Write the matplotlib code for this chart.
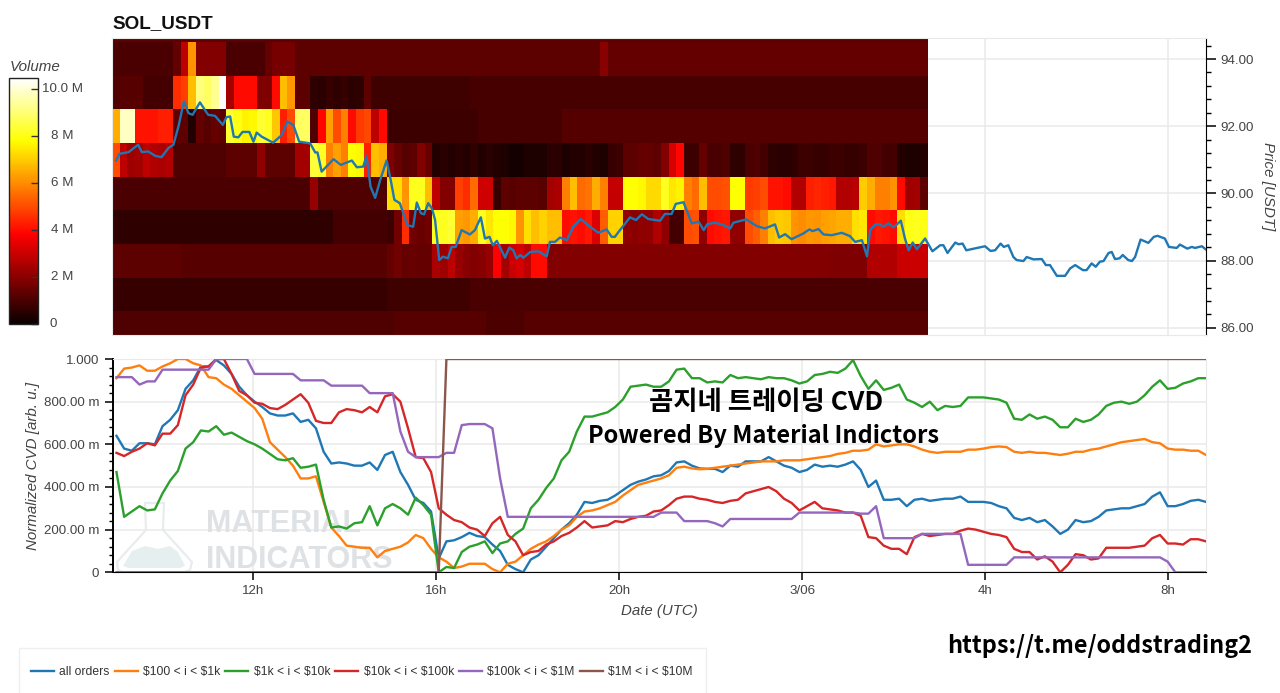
import numpy as np
import matplotlib
matplotlib.use("Agg")
import matplotlib.pyplot as plt
from matplotlib.patches import Polygon, Rectangle
from matplotlib.ticker import FixedLocator

plt.rcParams['font.family'] = ['Liberation Sans', 'DejaVu Sans']

W, H = 1280, 693
GREY = '#444444'

# heatmap volume per price row, in millions, one value per 10 min column
price_rows = [86, 87, 88, 89, 90, 91, 92, 93, 94, 95]
row_86 = [1.1]*37 + [1.2]*12 + [1.05]*5 + [1.2]*53
row_87 = [0.7]*36 + [0.85]*11 + [1.0]*60
row_88 = [1.3]*9 + [1.2]*27 + [1.4, 1.6, 1.4, 1.5, 1.4, 1.4, 2.5, 2.3, 2.8, 2.2, 2.0,
          1.9, 2.0, 2.2, 3.8, 2.4, 3.0, 3.2, 2.8, 4.0, 4.0, 1.9] + [1.9]*36 + [1.8]*5 + [2.6]*4 + [3.0]*4
row_89 = [0.6]*29 + [0.9]*7 + [.8, 1.6, 4.5, 1.6, 1.5, 1.6, 8.1, 8.1, 8.3, 6.3, 6.2,
          6.5, 8.1, 7.4, 7.8, 7.8, 7.7, 6.1, 7.3, 6.8, 7.1, 6.8, 6.8, 4.0, 4.1, 4.0, 4.2, 3.3, 5.3,
          7.1, 7.1, 2.1, 2.0, 2.1, 2.1, 2.6, 2.1, .9, .9, 5.0, 5.1, 2.1, 4.0, 4.1, 4.2, 2.1, 2.1,
          5.0, 5.3, 5.8, 6.8, 7.0, 6.9, 6.1, 6.0, 6.2, 6.1, 6.3, 6.4, 6.5, 6.5, 7.3, 7.4,
          4.0, 4.2, 4.1, 4.0, 7.3, 8.0, 8.1, 8.0]
row_90 = [1.0]*26 + [2.2] + [1.1]*9 + [7.3, 7.3, 6.1, 8.1, 8.1, 6.8, 2.8, 1.9, 1.9, 4.8, 4.5,
          5.5, 3.1, 3.1, 0.7, 1.3, 1.2, 1.3, 1.3, 1.3, 1.2, 2.4, 2.5, 5.8, 6.8, 5.5, 5.6, 6.5, 5.8,
          2.9, 2.9, 7.8, 7.8, 7.7, 7.2, 7.2, 8.1, 7.4, 7.6, 5.8, 5.5, 6.8, 5.0, 5.0, 5.1, 7.8, 7.8,
          4.7, 4.8, 5.0, 4.1, 4.1, 4.0, 2.6, 2.6, 4.3, 4.4, 4.3, 4.2, 2.6, 2.6, 2.7, 7.0, 6.5,
          5.8, 5.8, 6.1, 4.0, 2.3, 2.4, 1.3]
row_91 = [5.0, 2.8, 2.3, 2.4, 2.8, 2.6, 2.5, 2.6] + [1.1]*7 + [1.3]*4 + [2.1] + [1.3]*4 + [2.4, 2.4,
          8.4, 8.2, 5.8, 6.3, 5.8, 7.8, 7.7, 4.3, 6.8, 6.5, 1.8, 1.5, 1.2, 1.3, 1.9, 1.5,
          .4, .5, .4, .5, .4, .6, .4, .5, .4, .3, .2, .2, .3, .3, .3, .5, .5, .3, .4, .4, .5, .4, .3, .7, .8,
          1.3, 1.3, 1.4, 1.4, 1.3, 1.9, 3.2, 3.9, .8, .8, 1.4, 1.0, 1.0, 1.1, .6, .6, 1.0, 1.1, .9,
          .6, .5, .5, .6, .8, .8, .7, .7, .8, .8, .7, .7, .8, 1.1, 1.1, .9, .9, .4, .3, .3, .4]
row_92 = [6.5, 9.8, 9.8, 4.1, 4.1, 4.1, 4.3, 4.3, 1.3, 1.3, .4, 1.4, 1.2, 1.4, 1.3,
          8.3, 8.0, 7.6, 7.7, 8.3, 8.1, 6.9, 4.3, 5.0, 8.8, 8.8, 1.1, 3.9, 6.3, 5.0, 5.8, 4.0, 4.7, 4.9,
          2.8, 4.0] + [0.8]*12 + [0.95]*11 + [1.15]*48
row_93 = [1.1, 1.2, 1.2, 1.2, .9, .9, .9, .9, 4.5, 4.8, 6.8, 9.1, 8.8, 9.3, 10.45, 2.4, 4.0, 4.0, 4.0,
          1.8, 1.8, 4.0, 6.8, 6.2, 1.3, 1.3, .6, .5, .7, .6, .7, .5, .6, 1.3] + [0.85]*13 + [0.95]*60
row_94 = [1.0]*8 + [1.4, 2.8, 6.1] + [1.9]*4 + [1.0]*5 + [1.4] + [1.7]*3 + [1.3]*40 + [2.0] + [1.42]*42
row_95 = [1.3]*107

# traded price line, hours since midnight of the first day
price_hours = [9.01, 9.08, 9.28, 9.49, 9.57, 9.71, 9.86, 10.0, 10.15, 10.26, 10.37, 10.49, 10.59, 10.68, 10.84,
               11.02, 11.17, 11.34, 11.42, 11.5, 11.58, 11.68, 11.77, 11.92, 12.01, 12.08, 12.19, 12.44, 12.63,
               12.75, 12.88, 13.01, 13.25, 13.36, 13.41, 13.5, 13.76, 13.92, 14.16, 14.27, 14.41, 14.48, 14.57,
               14.67, 14.78, 14.92, 15.01, 15.09, 15.21, 15.37, 15.5, 15.58, 15.67, 15.74, 15.83, 15.91, 15.98,
               16.07, 16.15, 16.26, 16.34, 16.43, 16.56, 16.74, 16.85, 16.98, 17.07, 17.17, 17.24, 17.33, 17.51,
               17.6, 17.69, 17.76, 17.84, 17.91, 18.06, 18.24, 18.42, 18.49, 18.6, 18.71, 18.86, 19.0, 19.16,
               19.37, 19.55, 19.73, 19.84, 19.91, 20.02, 20.24, 20.37, 20.5, 20.64, 20.9, 21.0, 21.15, 21.24,
               21.41, 21.59, 21.74, 21.85, 21.93, 22.1, 22.28, 22.43, 22.5, 22.78, 23.01, 23.19, 23.41, 23.5,
               23.63, 23.77, 24.03, 24.16, 24.23, 24.36, 24.47, 24.65, 24.87, 25.05, 25.16, 25.31, 25.42, 25.49,
               25.6, 25.7, 25.78, 25.89, 26.0, 26.16, 26.25, 26.33, 26.42, 26.51, 26.69, 26.85, 27.02, 27.09,
               27.18, 27.35, 27.42, 27.51, 27.59, 27.93, 28.0, 28.12, 28.22, 28.34, 28.41, 28.51, 28.62, 28.69,
               28.84, 28.91, 29.06, 29.24, 29.33, 29.42, 29.57, 29.75, 29.86, 29.97, 30.14, 30.22, 30.33, 30.42,
               30.51, 30.59, 30.7, 30.77, 30.84, 30.94, 31.01, 31.13, 31.21, 31.28, 31.4, 31.57, 31.69, 31.77,
               31.93, 32.02, 32.19, 32.26, 32.42, 32.52, 32.59, 32.74, 32.83]
price = [90.98, 91.18, 91.23, 91.45, 91.23, 91.25, 91.12, 91.08, 91.35, 91.45, 91.99, 92.74, 92.39, 92.34, 92.71,
         92.34, 92.31, 92.04, 92.27, 92.29, 91.69, 91.67, 91.83, 91.83, 91.54, 91.81, 91.69, 91.51, 91.74,
         92.14, 92.04, 91.54, 91.49, 91.22, 91.22, 90.65, 91.02, 90.85, 90.98, 90.78, 90.8, 91.12, 90.2,
         89.87, 90.4, 90.98, 90.4, 89.81, 89.71, 89.06, 89.01, 89.73, 89.41, 89.38, 89.71, 89.56, 89.21,
         88.02, 88.12, 88.07, 88.41, 88.41, 88.91, 88.78, 88.91, 89.29, 88.66, 88.71, 88.46, 88.59, 88.09,
         88.39, 88.31, 88.07, 88.17, 88.09, 88.26, 88.28, 88.13, 88.56, 88.56, 88.69, 88.61, 89.01, 89.24,
         89.01, 88.83, 88.93, 88.71, 88.71, 88.91, 89.29, 89.21, 89.38, 89.24, 89.19, 89.39, 89.39, 89.69,
         89.74, 89.11, 89.16, 88.91, 89.09, 89.13, 89.06, 88.96, 89.13, 89.23, 89.03, 88.96, 89.08, 88.69,
         88.79, 88.64, 88.81, 88.93, 88.88, 88.94, 88.78, 88.76, 88.83, 88.73, 88.56, 88.61, 88.13, 88.91,
         89.08, 89.08, 89.01, 89.11, 88.99, 89.19, 88.66, 88.31, 88.54, 88.34, 88.66, 88.28, 88.46, 88.46,
         88.23, 88.54, 88.49, 88.51, 88.31, 88.41, 88.43, 88.29, 88.31, 88.51, 88.41, 88.46, 88.11, 88.02,
         87.99, 88.11, 88.04, 88.05, 87.87, 87.87, 87.55, 87.55, 87.77, 87.87, 87.72, 87.72, 87.92, 87.82,
         87.97, 87.99, 88.23, 88.26, 88.05, 88.07, 88.17, 88.02, 87.99, 88.11, 88.63, 88.53, 88.71, 88.74,
         88.66, 88.41, 88.38, 88.48, 88.36, 88.41, 88.38, 88.43, 88.33]

# normalized CVD, one value every ~10 min
cvd_all = [.64, .58, .57, .605, .605, .60, .685, .715, .76, .86,
           .90, .965, .965, .995, .97, .93, .87, .83, .80, .775,
           .745, .735, .735, .745, .705, .715, .675, .565, .51, .515,
           .51, .50, .50, .515, .48, .55, .565, .47, .41, .34,
           .325, .285, .065, .145, .15, .165, .185, .17, .165, .13,
           .10, .035, .015, 0, .06, .08, .12, .16, .20, .23,
           .27, .33, .325, .335, .34, .36, .385, .41, .425, .435,
           .45, .455, .475, .515, .52, .50, .487, .485, .485, .47,
           .50, .495, .52, .52, .52, .54, .52, .50, .49, .47,
           .48, .505, .495, .50, .495, .505, .52, .48, .40, .43,
           .34, .34, .345, .31, .34, .345, .335, .34, .345, .345,
           .355, .33, .33, .33, .325, .31, .30, .255, .245, .255,
           .235, .245, .215, .18, .20, .245, .235, .24, .26, .29,
           .295, .30, .30, .31, .32, .355, .375, .31, .31, .32,
           .335, .34, .33]
cvd_100_1k = [.91, .955, .96, .97, .945, .945, .965, .98, 1.0, 1.0,
              .98, .97, .915, .91, .88, .86, .83, .80, .77, .72,
              .61, .575, .54, .50, .44, .44, .45, .33, .21, .17,
              .125, .12, .115, .115, .07, .10, .11, .12, .14, .175,
              .16, .11, .07, .05, .02, .027, .04, .04, .04, .015,
              0, .04, .05, .08, .11, .13, .145, .17, .20, .22,
              .26, .285, .29, .30, .315, .33, .36, .385, .41, .42,
              .43, .44, .455, .49, .495, .487, .483, .485, .49, .495,
              .50, .505, .51, .515, .52, .52, .52, .525, .525, .525,
              .53, .535, .54, .545, .555, .56, .57, .57, .575, .60,
              .59, .595, .60, .60, .59, .575, .565, .56, .565, .565,
              .565, .575, .575, .58, .587, .59, .587, .565, .56, .565,
              .56, .56, .555, .55, .556, .565, .565, .575, .58, .59,
              .60, .61, .615, .62, .625, .61, .605, .58, .575, .575,
              .57, .57, .55]
cvd_1k_10k = [.47, .26, .285, .31, .29, .295, .37, .43, .475, .58,
              .61, .665, .66, .685, .645, .655, .635, .615, .60, .58,
              .555, .53, .525, .535, .49, .495, .505, .34, .21, .215,
              .205, .23, .235, .31, .22, .30, .32, .30, .27, .35,
              .315, .27, 0, .025, .02, .095, .12, .13, .145, .09,
              .135, .145, .18, .205, .30, .34, .395, .44, .525, .565,
              .66, .73, .73, .74, .75, .775, .81, .87, .875, .88,
              .87, .87, .895, .95, .955, .91, .91, .89, .895, .89,
              .925, .91, .915, .91, .905, .915, .91, .91, .90, .885,
              .895, .925, .93, .94, .935, .955, .995, .92, .86, .90,
              .855, .865, .88, .81, .795, .775, .80, .76, .78, .775,
              .78, .82, .82, .82, .815, .81, .795, .72, .715, .74,
              .72, .73, .715, .68, .68, .72, .705, .715, .74, .78,
              .795, .80, .79, .80, .83, .87, .90, .86, .865, .885,
              .895, .91, .91]
cvd_10k_100k = [.56, .545, .565, .58, .605, .595, .65, .65, .69, .83,
                .88, .96, .965, 1.0, 1.0, .93, .85, .83, .795, .79,
                .77, .765, .785, .81, .835, .795, .71, .70, .70, .75,
                .765, .76, .75, .775, .75, .825, .835, .80, .675, .54,
                .535, .47, .30, .27, .245, .235, .21, .20, .17, .23,
                .26, .175, .145, .08, .095, .10, .13, .145, .17, .185,
                .21, .24, .21, .215, .22, .24, .235, .25, .26, .265,
                .285, .29, .315, .345, .355, .355, .345, .34, .33, .325,
                .335, .34, .37, .38, .39, .40, .38, .345, .325, .29,
                .31, .33, .30, .295, .29, .28, .28, .265, .165, .16,
                .125, .11, .11, .085, .165, .18, .17, .175, .18, .18,
                .195, .205, .20, .19, .18, .175, .165, .11, .095, .095,
                .06, .075, .05, 0, .035, .085, .08, .06, .065, .115,
                .115, .115, .115, .12, .125, .16, .175, .135, .135, .13,
                .155, .155, .145]
cvd_100k_1m = [.915, .915, .915, .88, .895, .895, .95, .95, .95, .95,
               .95, .95, .95, 1, 1, 1, 1, 1, .93, .93,
               .93, .93, .93, .93, .90, .90, .90, .90, .875, .875,
               .875, .875, .875, .84, .84, .84, .84, .66, .565, .54,
               .54, .54, .54, .56, .56, .69, .695, .695, .695, .675,
               .44, .26, .26, .26, .26, .26, .26, .26, .26, .26,
               .26, .26, .26, .26, .26, .26, .26, .26, .26, .26,
               .26, .28, .28, .28, .24, .24, .24, .24, .23, .215,
               .25, .25, .25, .25, .25, .25, .25, .25, .25, .28,
               .28, .28, .28, .28, .28, .28, .28, .275, .275, .31,
               .16, .16, .16, .16, .16, .18, .18, .18, .18, .18,
               .18, .035, .035, .035, .035, .035, .035, .07, .07, .07,
               .07, .07, .07, .07, .07, .07, .07, .07, .07, .07,
               .07, .07, .07, .07, .07, .07, .07, .05, 0, 0,
               0, 0, 0]
cvd_1m_10m = [0]*43 + [1]*100

series_labels = ['all orders', r'\$100 < i < \$1k', r'\$1k < i < \$10k', r'\$10k < i < \$100k',
                 r'\$100k < i < \$1M', r'\$1M < i < \$10M']
series_colors = ['#1f77b4', '#ff7f0e', '#2ca02c', '#d62728', '#9467bd', '#8c564b']

x_ticks = [12, 16, 20, 24, 28, 32]
x_labels = ['12h', '16h', '20h', '3/06', '4h', '8h']
price_ticks = [86, 88, 90, 92, 94]
price_labels = ['86.00', '88.00', '90.00', '92.00', '94.00']
cvd_ticks = [0, .2, .4, .6, .8, 1.0]
cvd_labels = ['0', '200.00 m', '400.00 m', '600.00 m', '800.00 m', '1.000']
volume_ticks = [0, 2, 4, 6, 8, 10]
volume_labels = ['0', '2 M', '4 M', '6 M', '8 M', '10.0 M']


def box(left, top, right, bottom):
    return [left / W, 1 - bottom / H, (right - left) / W, (bottom - top) / H]


def fx(px):
    return px / W


def fy(py):
    return 1 - py / H


fig = plt.figure(figsize=(W / 100, H / 100), dpi=100)
ax = fig.add_axes(box(112, 38, 1206, 335))
ax2 = fig.add_axes(box(112.5, 359, 1206, 572.3))
cax = fig.add_axes(box(8.5, 78, 37.7, 324))

xlim = (8.918, 32.83)

# heatmap + price
volume = np.array([row_86, row_87, row_88, row_89, row_90, row_91, row_92, row_93, row_94, row_95])
col_edges = 8.92 + np.arange(volume.shape[1] + 1) / 6
row_edges = np.array(price_rows + [96]) - 0.5
mesh = ax.pcolormesh(col_edges, row_edges, volume, cmap='hot', vmin=0, vmax=10.45, zorder=1)
ax.plot(price_hours, price, color='#1f77b4', lw=1.7, zorder=3, solid_joinstyle='round')
ax.set_xlim(xlim)
ax.set_ylim(85.79, 94.625)
ax.set_xticks(x_ticks)
ax.tick_params(axis='x', length=0, labelbottom=False)
ax.yaxis.tick_right()
ax.yaxis.set_label_position('right')
ax.set_yticks(price_ticks, price_labels)
ax.yaxis.set_minor_locator(FixedLocator(np.arange(86, 94.7, 0.4)))
ax.tick_params(axis='y', which='major', length=7, width=1.1, color='black', labelcolor=GREY, labelsize=9.6, pad=3)
ax.tick_params(axis='y', which='minor', length=3.6, width=1, color='black')
ax.grid(True, color='#e9e9e9', lw=1.1)
ax.set_axisbelow(True)
for side in ['top', 'left', 'bottom']:
    ax.spines[side].set_color('#e9e9e9')
ax.spines['right'].set_color('black')
ax.set_ylabel('Price [USDT]', rotation=270, style='italic', color=GREY, fontsize=10.9, va='center')
ax.yaxis.set_label_coords(1.0 + 62 / 1094, 0.5)
ax.text(0, 1.035, 'SOL_USDT', transform=ax.transAxes, fontweight='bold', fontsize=13.6, color='#111111')

# volume colorbar
cb = fig.colorbar(mesh, cax=cax)
cb.set_ticks(volume_ticks, labels=[''] * len(volume_ticks))
cb.outline.set_edgecolor('#222222')
cb.outline.set_linewidth(1)
cax.tick_params(axis='y', direction='in', length=5, width=1, color='#333333', right=True)
for v, lab in zip(volume_ticks, volume_labels):
    cax.text(1.53 if v == 0 else 1.85, v, lab, ha='center', va='center', color=GREY, fontsize=9.6,
             transform=cax.get_yaxis_transform())
fig.text(fx(10), fy(67), 'Volume', style='italic', color=GREY, fontsize=10.9, va='center')

# watermark behind the CVD lines
flask = [(fx(x), fy(y)) for x, y in [(145, 503), (164, 503), (163, 530), (192, 562), (190, 570), (184, 572),
                                     (122, 572), (118, 570), (117, 562), (146, 530)]]
liquid = [(fx(x), fy(y)) for x, y in [(123, 566), (132, 551), (145, 546), (158, 549), (170, 546), (178, 552),
                                      (185, 566), (180, 568), (128, 568)]]
ax2.add_patch(Polygon(flask, closed=True, transform=fig.transFigure, fill=False, edgecolor='#e9ecee', lw=1.6, zorder=0.5))
ax2.add_patch(Polygon(liquid, closed=True, transform=fig.transFigure, facecolor='#e6efef', edgecolor='none', zorder=0.5))
ax2.text(fx(206), fy(532), 'MATERIAL', transform=fig.transFigure, fontweight='bold', fontsize=22,
         color='#dfe2e5', zorder=0.6, va='baseline')
ax2.text(fx(206), fy(568), 'INDICATORS', transform=fig.transFigure, fontweight='bold', fontsize=22,
         color='#dfe2e5', zorder=0.6, va='baseline')

# CVD lines
times = np.linspace(9.005, 32.83, len(cvd_all))
all_series = [cvd_all, cvd_100_1k, cvd_1k_10k, cvd_10k_100k, cvd_100k_1m, cvd_1m_10m]
for values, label, color in zip(all_series, series_labels, series_colors):
    ax2.plot(times, values, color=color, lw=1.7, label=label, zorder=3)
ax2.set_xlim(xlim)
ax2.set_ylim(0, 1)
ax2.set_xticks(x_ticks, x_labels)
ax2.set_yticks(cvd_ticks, cvd_labels)
ax2.yaxis.set_minor_locator(FixedLocator(np.arange(0, 1.01, 0.04)))
ax2.tick_params(axis='both', which='major', length=5.5, width=1.1, color='black', labelcolor=GREY, labelsize=9.6, pad=4)
ax2.tick_params(axis='y', which='minor', length=3, width=1, color='black')
ax2.grid(True, color='#e9e9e9', lw=1.1)
ax2.set_axisbelow(True)
ax2.spines['top'].set_color('#e9e9e9')
ax2.spines['right'].set_color('#e9e9e9')
ax2.spines['left'].set_linewidth(1.4)
ax2.set_xlabel('Date (UTC)', style='italic', color=GREY, fontsize=10.8, labelpad=5)
ax2.set_ylabel('Normalized CVD [arb. u.]', style='italic', color=GREY, fontsize=10.9)
ax2.yaxis.set_label_coords(-73 / 1094, 0.5)

kr_font = ['Noto Sans CJK KR', 'DejaVu Sans']
fig.text(fx(766), fy(402), '곰지네 트레이딩 CVD', family=kr_font, fontweight='bold', fontsize=19,
         ha='center', va='center', color='black', zorder=10)
fig.text(fx(763), fy(436), 'Powered By Material Indictors', family=kr_font, fontweight='bold', fontsize=17,
         ha='center', va='center', color='black', zorder=10)
fig.text(fx(1100), fy(646), 'https://t.me/oddstrading2', family=kr_font, fontweight='bold', fontsize=16.8,
         ha='center', va='center', color='black', zorder=10)

# legend box runs off the bottom of the picture
fig.add_artist(Rectangle((fx(19), fy(695)), (706 - 19) / W, 47 / H, transform=fig.transFigure,
                         facecolor='white', edgecolor='#efefef', lw=1))
fig.legend(*ax2.get_legend_handles_labels(), loc='center left', bbox_to_anchor=(fx(19), fy(672)), ncol=6,
           fontsize=8.7, handlelength=1.9, handletextpad=0.45, columnspacing=0.41, borderpad=1.0,
           borderaxespad=0, frameon=False, labelcolor='#333333')

fig.savefig('out.png', dpi=100)
